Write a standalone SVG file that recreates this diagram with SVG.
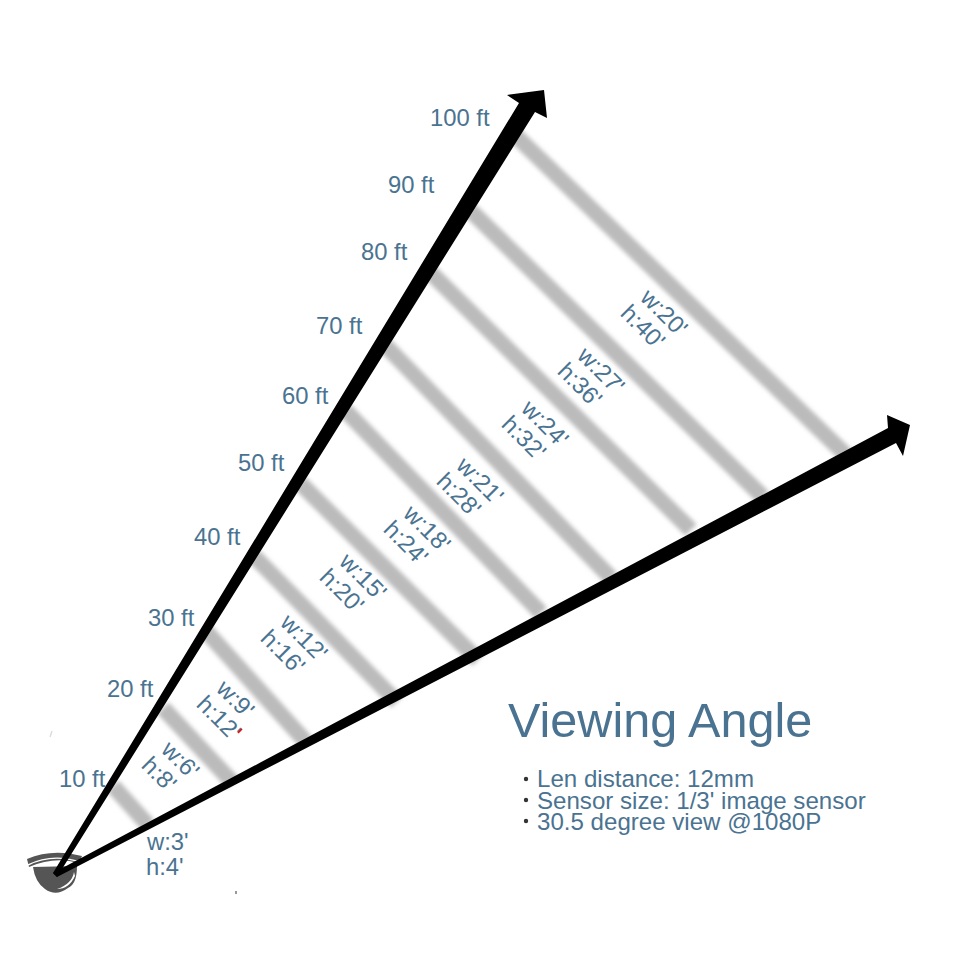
<svg xmlns="http://www.w3.org/2000/svg" width="970" height="970" viewBox="0 0 970 970">
<defs><filter id="b" x="0" y="0" width="970" height="970" filterUnits="userSpaceOnUse"><feGaussianBlur stdDeviation="2"/></filter></defs>
<style>
text{font-family:"Liberation Sans",Arial,sans-serif;fill:#4a7391}
.d{font-size:23.8px}
.r{font-size:23.8px}
.l{font-size:24.1px}
.bar{stroke:#bbb;stroke-width:16;fill:none;filter:url(#b)}
</style>
<rect width="970" height="970" fill="#fff"/>
<g id="bars">
<path class="bar" d="M113 786L148 825"/>
<path class="bar" d="M163 708L233 783"/>
<path class="bar" d="M205 630L306 742"/>
<path class="bar" d="M254 556L397 702"/>
<path class="bar" d="M300 483L478 660"/>
<path class="bar" d="M345 410L541 613"/>
<path class="bar" d="M385 345L611 578"/>
<path class="bar" d="M430 272L691 530"/>
<path class="bar" d="M470 210L763 497"/>
<path class="bar" d="M515 135L846 455"/>
</g>
<g id="camera">
<path d="M33 867L77 866Q77 884 68 888Q56 897 45 889Q35 882 33 867Z" fill="#555"/>
<path d="M27 859Q52 848 82 856L79 863Q54 856 29 867Z" fill="#555"/>
<path d="M28 865Q52 853 80 862" fill="none" stroke="#fff" stroke-width="1.4"/>
<path d="M74 872Q72 884 57 889Q69 889 75 876Z" fill="#fff"/>
</g>
<g id="connectors">
<path d="M53 873L519 103L507 95L544 90L547 118L535 112L57 877Z" fill="#000"/>
<path d="M53 873L888 428L887 415L910 425L903 456L896 443L57 877Z" fill="#000"/>
</g>
<g id="distances">
<text class="d" x="59" y="787">10 ft</text>
<text class="d" x="107" y="697">20 ft</text>
<text class="d" x="148" y="626">30 ft</text>
<text class="d" x="194" y="545">40 ft</text>
<text class="d" x="238" y="471">50 ft</text>
<text class="d" x="282" y="404">60 ft</text>
<text class="d" x="316" y="334">70 ft</text>
<text class="d" x="361" y="260">80 ft</text>
<text class="d" x="388" y="193">90 ft</text>
<text class="d" x="430" y="126">100 ft</text>
</g>
<g id="sizes">
<text class="r" x="147" y="850">w:3'</text>
<text class="r" x="146" y="875">h:4'</text>
<g transform="translate(160,751) rotate(45)"><text class="r" x="0" y="0">w:6'</text><text class="r" x="-3" y="25">h:8'</text></g>
<g transform="translate(215,690) rotate(45)"><text class="r" x="0" y="0">w:9'</text><text class="r" x="-3" y="25">h:12'</text></g>
<g transform="translate(279,624) rotate(45)"><text class="r" x="0" y="0">w:12'</text><text class="r" x="-3" y="25">h:16'</text></g>
<g transform="translate(338,563) rotate(45)"><text class="r" x="0" y="0">w:15'</text><text class="r" x="-3" y="25">h:20'</text></g>
<g transform="translate(402,515) rotate(45)"><text class="r" x="0" y="0">w:18'</text><text class="r" x="-3" y="25">h:24'</text></g>
<g transform="translate(455,467) rotate(45)"><text class="r" x="0" y="0">w:21'</text><text class="r" x="-3" y="25">h:28'</text></g>
<g transform="translate(520,410) rotate(45)"><text class="r" x="0" y="0">w:24'</text><text class="r" x="-3" y="25">h:32'</text></g>
<g transform="translate(576,357) rotate(45)"><text class="r" x="0" y="0">w:27'</text><text class="r" x="-3" y="25">h:36'</text></g>
<g transform="translate(639,299) rotate(45)"><text class="r" x="0" y="0">w:20'</text><text class="r" x="-3" y="25">h:40'</text></g>
</g>
<g id="legend">
<text x="508" y="737" font-size="48.6">Viewing Angle</text>
<circle cx="526" cy="779" r="2.2" fill="#333"/>
<circle cx="526" cy="800" r="2.2" fill="#333"/>
<circle cx="526" cy="821" r="2.2" fill="#333"/>
<text class="l" x="537" y="787">Len distance: 12mm</text>
<text class="l" x="537" y="809">Sensor size: 1/3' image sensor</text>
<text class="l" x="537" y="830">30.5 degree view @1080P</text>
</g>
<g id="specks">
<path d="M238 733L242 729" stroke="#f00" stroke-width="1.6"/>
<path d="M236 891V894" stroke="#333" stroke-width="1"/>
<path d="M50 737L52 731" stroke="#ddd" stroke-width="1.5"/>
</g>
</svg>
